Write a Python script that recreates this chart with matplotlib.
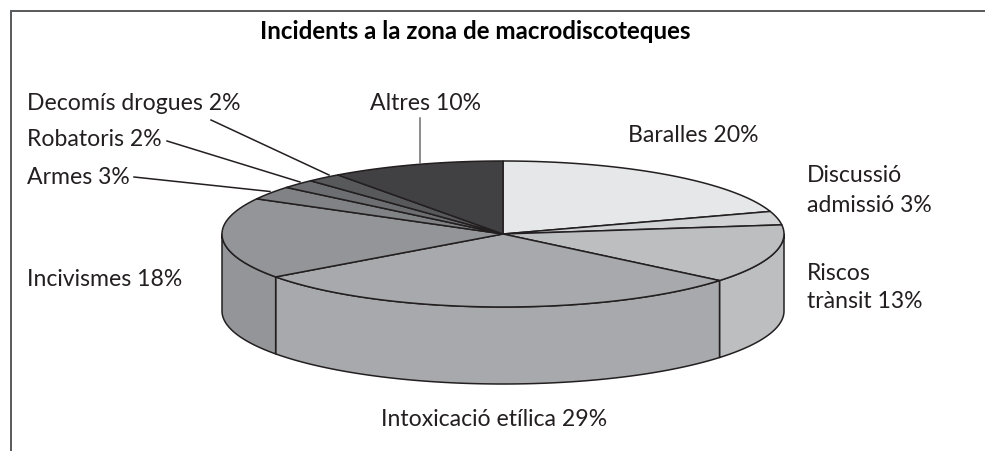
import numpy as np
import matplotlib
matplotlib.use("Agg")
import matplotlib.pyplot as plt

W, H = 985, 451
categories = ["Baralles", "Discussió admissió", "Riscos trànsit", "Intoxicació etílica",
              "Incivismes", "Armes", "Robatoris", "Decomís drogues", "Altres"]
values = [20, 3, 13, 29, 18, 3, 2, 2, 10]
top_colors = ["#e6e7e8", "#d1d3d4", "#bcbec0", "#a7a9ac", "#939598", "#808285", "#6d6e71", "#58595b", "#414042"]
title = "Incidents a la zona de macrodiscoteques"
FONT = "Lato"
CX, CY, RX, RY, DEPTH = 503, 234, 281, 73, 77
EDGE = "#231f20"

fig = plt.figure(figsize=(W / 100, H / 100), dpi=100)
ax = fig.add_axes([0, 0, 1, 1])
ax.set_xlim(0, W)
ax.set_ylim(H, 0)
ax.axis("off")

# Frame: left and top rules only
ax.plot([10.5, 10.5, W], [H, 11, 11], color="#58595b", lw=1.4, solid_joinstyle="miter")


def pt(a, dy=0):
    a = np.asarray(a)
    return CX + RX * np.sin(a), CY - RY * np.cos(a) + dy


edges = np.concatenate([[0], np.cumsum(values)]) / sum(values) * 2 * np.pi
# side walls: visible for angles between pi/2 and 3pi/2 (front half)
for i in range(len(values)):
    a0, a1 = max(edges[i], np.pi / 2), min(edges[i + 1], 3 * np.pi / 2)
    if a1 <= a0:
        continue
    t = np.linspace(a0, a1, 120)
    xt, yt = pt(t)
    xb, yb = pt(t, DEPTH)
    ax.fill(np.r_[xt, xb[::-1]], np.r_[yt, yb[::-1]], fc=top_colors[i], ec=EDGE, lw=1.1, joinstyle="round", zorder=2)
# top faces
for i in range(len(values)):
    t = np.linspace(edges[i], edges[i + 1], 120)
    xt, yt = pt(t)
    ax.fill(np.r_[CX, xt], np.r_[CY, yt], fc=top_colors[i], ec=EDGE, lw=1.1, joinstyle="round", zorder=3)

lab = dict(family=FONT, fontsize=16.6, color="#231f20", zorder=5, va="center", ha="left")
ax.text(475.5, 31.5, title, family=FONT, fontsize=17.4, fontweight="bold", color="black", ha="center", va="center")
ax.text(27, 103, f"{categories[7]} {values[7]}%", **lab)
ax.text(27, 139, f"{categories[6]} {values[6]}%", **lab)
ax.text(27, 178, f"{categories[5]} {values[5]}%", **lab)
ax.text(370, 103, f"{categories[8]} {values[8]}%", **lab)
ax.text(628, 136, f"{categories[0]} {values[0]}%", **lab)
ax.text(807, 176, "Discussió", **lab)
ax.text(807, 205, f"admissió {values[1]}%", **lab)
ax.text(807, 273, "Riscos", **lab)
ax.text(807, 302, f"trànsit {values[2]}%", **lab)
ax.text(27, 280, f"{categories[4]} {values[4]}%", **lab)
ax.text(381, 420, f"{categories[3]} {values[3]}%", **lab)

# Leader lines
for xs, ys, c in [([211, 329], [120, 175], EDGE), ([167, 300], [141, 182], EDGE),
                  ([134, 270], [177, 191.5], EDGE), ([420, 420], [118, 163], "#6d6e71")]:
    ax.plot(xs, ys, color=c, lw=1.1, zorder=4)

fig.savefig("out.png", dpi=100)
